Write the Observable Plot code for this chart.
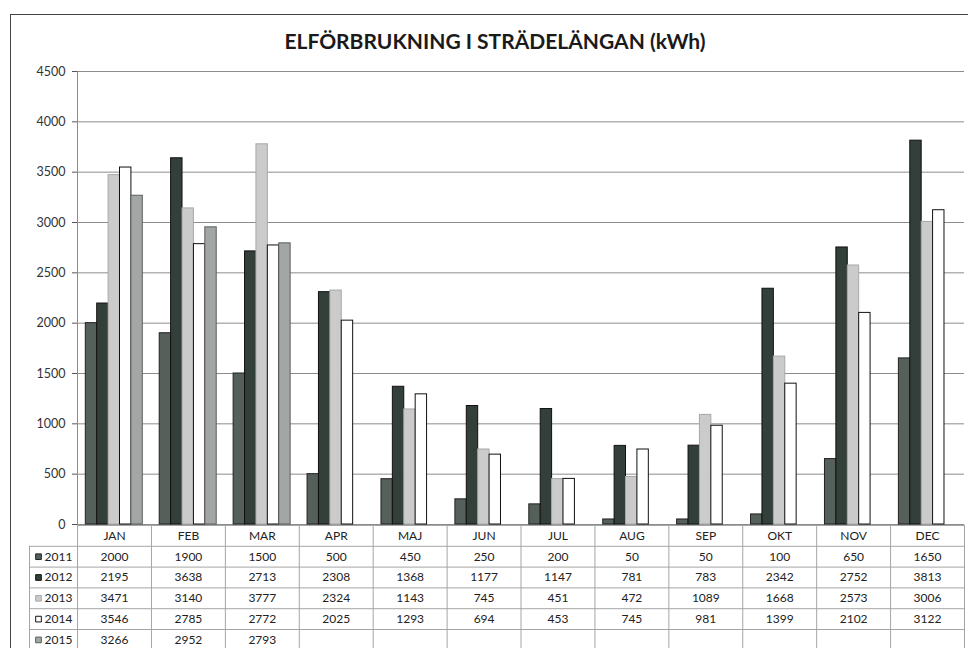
<!DOCTYPE html>
<html>
<head>
<meta charset="utf-8">
<script src="https://cdn.jsdelivr.net/npm/d3@7"></script>
<script src="https://cdn.jsdelivr.net/npm/@observablehq/plot@0.6"></script>
<style>
  html, body { margin: 0; padding: 0; background: #fff; overflow: hidden; width: 968px; height: 648px; }
  #wrap { position: relative; width: 968px; height: 648px; font-family: Lato, sans-serif; }
  #frame { position: absolute; left: 10px; top: 14px; width: 1000px; height: 700px; border-left: 1.5px solid #444; border-top: 1.5px solid #444; }
  #title { position: absolute; left: 95px; width: 800px; top: 29px; text-align: center; font: bold 21px Lato, sans-serif; color: #1a1a1a; line-height: 24px; }
  #chart { position: absolute; left: 0; top: 0; }
  #table { position: absolute; left: 0; top: 524px; }
  svg { background: transparent !important; overflow: visible; }
</style>
</head>
<body>
<div id="wrap">
  <div id="frame"></div>
  <div id="title">ELFÖRBRUKNING I STRÄDELÄNGAN (kWh)</div>
  <div id="table"></div>
  <div id="chart"></div>
</div>
<script>
const months = ["JAN","FEB","MAR","APR","MAJ","JUN","JUL","AUG","SEP","OKT","NOV","DEC"];
const years = ["2011","2012","2013","2014","2015"];
const v2011 = [2000,1900,1500,500,450,250,200,50,50,100,650,1650];
const v2012 = [2195,3638,2713,2308,1368,1177,1147,781,783,2342,2752,3813];
const v2013 = [3471,3140,3777,2324,1143,745,451,472,1089,1668,2573,3006];
const v2014 = [3546,2785,2772,2025,1293,694,453,745,981,1399,2102,3122];
const v2015 = [3266,2952,2793,null,null,null,null,null,null,null,null,null];
const yTicks = [0,500,1000,1500,2000,2500,3000,3500,4000,4500];

const series = [v2011, v2012, v2013, v2014, v2015];
const fills   = ["#55605b", "#33403a", "#cbcbcb", "#ffffff", "#a2a6a4"];
const strokes = ["#222222", "#111111", "#a8a8a8", "#111111", "#5a5e5c"];

// layout constants
const W = 968, mL = 77, mR = 4;
const bandW = (W - mL - mR) / months.length;
const barW = 11.4;
const groupPad = 8.3;

const rows = months.map((m, i) => ({m, i}));
const bars = years.map((yr, k) =>
  Plot.barY(rows.filter(d => series[k][d.i] != null), {
    x: "m",
    y: d => series[k][d.i],
    fill: fills[k],
    stroke: strokes[k],
    strokeWidth: 1,
    insetLeft: groupPad + barW * k,
    insetRight: bandW - groupPad - barW * (k + 1)
  })
);

const chart = Plot.plot({
  width: W, height: 540,
  marginTop: 71, marginBottom: 16, marginLeft: mL, marginRight: mR,
  style: {background: "transparent", fontFamily: "Lato, sans-serif", fontSize: "12.5px", color: "#333"},
  x: {domain: months, padding: 0, round: false, axis: null},
  y: {domain: [0, 4500], axis: null},
  marks: [
    Plot.gridY(yTicks, {stroke: "#8c8c8c", strokeOpacity: 1}),
    Plot.axisY(yTicks, {tickSize: 5, tickPadding: 7, tickFormat: d => String(d), color: "#555", fill: "#333", fontSize: 12.5}),
    Plot.frame({anchor: "left", stroke: "#8c8c8c"}),
    ...bars
  ]
});
document.getElementById("chart").appendChild(chart);

// data table under the chart
const legendCol = -0.65;
const cells = years.flatMap((yr, r) => series[r].map((v, i) => ({i, r, v}))).filter(d => d.v != null);
const table = Plot.plot({
  width: W, height: 130,
  marginTop: 0, marginBottom: 0, marginLeft: 29, marginRight: mR,
  style: {background: "transparent", fontFamily: "Lato, sans-serif", fontSize: "12px", color: "#222"},
  x: {domain: [legendCol, months.length], axis: null},
  y: {domain: [0, years.length + 1], range: [1, 1 + 20.8 * (years.length + 1)], axis: null},
  color: {type: "identity"},
  marks: [
    Plot.ruleY([0], {x1: 0, x2: months.length, stroke: "#a5a5a5"}),
    Plot.ruleY(d3.range(1, years.length + 2), {x1: legendCol, x2: months.length, stroke: "#a5a5a5"}),
    Plot.ruleX(d3.range(0, months.length + 1), {y1: 0, y2: years.length + 1, stroke: "#a5a5a5"}),
    Plot.ruleX([legendCol], {y1: 1, y2: years.length + 1, stroke: "#a5a5a5"}),
    Plot.text(months, {x: (d, i) => i + 0.5, y: 0.5, text: d => d, fill: "#222"}),
    Plot.text(cells, {x: d => d.i + 0.5, y: d => d.r + 1.5, text: d => String(d.v), fill: "#222"}),
    Plot.dot(years, {x: legendCol, y: (d, r) => r + 1.5, symbol: "square", r: 3.2, dx: 9,
      fill: (d, r) => fills[r], stroke: (d, r) => strokes[r], strokeWidth: 1}),
    Plot.text(years, {x: legendCol, y: (d, r) => r + 1.5, text: d => d, dx: 15, textAnchor: "start", fill: "#222"})
  ]
});
document.getElementById("table").appendChild(table);
</script>
</body>
</html>
